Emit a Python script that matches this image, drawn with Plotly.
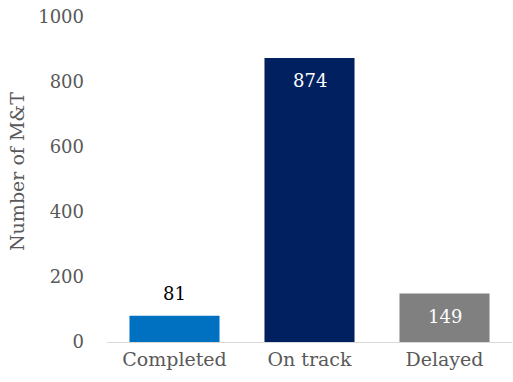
import plotly.graph_objects as go

categories = ["Completed", "On track", "Delayed"]
values = [81, 874, 149]
bar_colors = ["#0070C0", "#002060", "#808080"]
label_inside = [False, True, True]
label_colors = ["#000000", "#FFFFFF", "#FFFFFF"]
y_ticks = [0, 200, 400, 600, 800, 1000]

FONT = "DejaVu Serif"

fig = go.Figure(
    go.Bar(
        x=categories,
        y=values,
        marker=dict(color=bar_colors, line=dict(width=0)),
        hoverinfo="x+y",
    )
)

# value labels: above short bars, just inside the top of the others
annotations = []
for cat, val, inside, col in zip(categories, values, label_inside, label_colors):
    annotations.append(
        dict(
            x=cat,
            y=val,
            xref="x",
            yref="y",
            text=str(val),
            showarrow=False,
            xanchor="center",
            yanchor="middle",
            yshift=-23 if inside else 22,
            font=dict(family=FONT, size=18, color=col),
        )
    )

annotations.append(
    dict(
        text="Number of M&T",
        textangle=-90,
        xref="paper",
        yref="paper",
        x=-(107 - 17) / 405,
        y=(342 - 172) / 325,
        xanchor="center",
        yanchor="middle",
        showarrow=False,
        font=dict(family=FONT, size=19, color="#595959"),
    )
)

fig.update_layout(
    width=513,
    height=382,
    margin=dict(l=107, r=1, t=17, b=40),
    paper_bgcolor="white",
    plot_bgcolor="white",
    bargap=0.333,
    showlegend=False,
    font=dict(family=FONT, size=18, color="#595959"),
    xaxis=dict(
        showline=True,
        linecolor="#D9D9D9",
        linewidth=1,
        ticks="",
        tickfont=dict(family=FONT, size=19, color="#595959"),
        showgrid=False,
    ),
    yaxis=dict(
        range=[0, 1000],
        tickvals=y_ticks,
        showgrid=False,
        zeroline=False,
        showline=False,
        ticks="",
        ticklabelstandoff=22,
        tickfont=dict(family=FONT, size=18, color="#595959"),
    ),
    annotations=annotations,
)

fig.write_html("out.html")
